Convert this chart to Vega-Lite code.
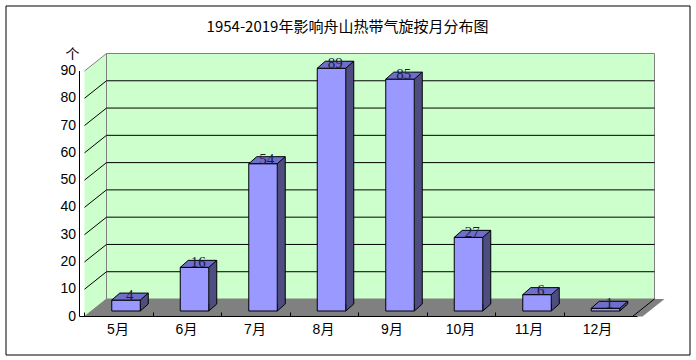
{
  "$schema": "https://vega.github.io/schema/vega-lite/v6.json",
  "width": 684,
  "height": 349,
  "autosize": "none",
  "padding": {"left": 5.5, "top": 5.5, "right": 6.5, "bottom": 5.5},
  "background": "white",
  "view": {"stroke": "black", "strokeWidth": 1, "fill": "white"},
  "title": {
    "text": "1954-2019年影响舟山热带气旋按月分布图",
    "anchor": "middle",
    "frame": "group",
    "font": "Noto Sans CJK SC",
    "fontSize": 15,
    "fontWeight": "normal",
    "color": "black",
    "baseline": "middle",
    "offset": -19,
    "dy": 17
  },
  "resolve": {"axis": {"x": "independent", "y": "independent"}},
  "data": {
    "values": [
      {"month": 5, "count": 4},
      {"month": 6, "count": 16},
      {"month": 7, "count": 54},
      {"month": 8, "count": 89},
      {"month": 9, "count": 85},
      {"month": 10, "count": 27},
      {"month": 11, "count": 6},
      {"month": 12, "count": 1}
    ]
  },
  "layer": [
    {
      "data": {"values": [{}]},
      "mark": {"type": "rect", "fill": "#CCFFCC", "stroke": "#808080", "strokeWidth": 1},
      "encoding": {
        "x": {"datum": 4.5, "type": "quantitative", "scale": {"domain": [4.5, 12.5], "range": [96, 654], "nice": false, "zero": false}, "axis": null},
        "x2": {"datum": 12.5},
        "y": {"datum": 0, "type": "quantitative", "scale": {"domain": [0, 90], "range": [293.5, 48], "nice": false, "zero": false}, "axis": null},
        "y2": {"datum": 90}
      }
    },
    {
      "data": {"values": [{}]},
      "mark": {"type": "point", "shape": "M-22,17.5L0,0L0,245.5L-22,263", "size": 4, "filled": true, "fill": "#CCFFCC", "stroke": "#808080", "strokeWidth": 1, "opacity": 1},
      "encoding": {
        "x": {"datum": 4.5, "type": "quantitative", "axis": null},
        "y": {"datum": 90, "type": "quantitative", "axis": null}
      }
    },
    {
      "data": {"values": [{"g": 10}, {"g": 20}, {"g": 30}, {"g": 40}, {"g": 50}, {"g": 60}, {"g": 70}, {"g": 80}]},
      "mark": {"type": "rule", "color": "black", "strokeWidth": 1},
      "encoding": {
        "x": {"datum": 4.5, "type": "quantitative", "axis": null},
        "x2": {"datum": 12.5},
        "y": {"field": "g", "type": "quantitative", "axis": null}
      }
    },
    {
      "data": {"values": [{"g": 10}, {"g": 20}, {"g": 30}, {"g": 40}, {"g": 50}, {"g": 60}, {"g": 70}, {"g": 80}]},
      "mark": {"type": "rule", "color": "black", "strokeWidth": 1, "x2Offset": -22, "y2Offset": 17.5},
      "encoding": {
        "x": {"datum": 4.5, "type": "quantitative", "axis": null},
        "x2": {"datum": 4.5},
        "y": {"field": "g", "type": "quantitative", "axis": null},
        "y2": {"field": "g"}
      }
    },
    {
      "data": {"values": [{}]},
      "mark": {"type": "point", "shape": "M0,0L-22,17.5L536,17.5L558,0Z", "size": 4, "filled": true, "fill": "#808080", "strokeWidth": 0, "opacity": 1},
      "encoding": {
        "x": {"datum": 4.5, "type": "quantitative", "axis": null},
        "y": {"datum": 0, "type": "quantitative", "axis": null}
      }
    },
    {
      "data": {"values": [{}]},
      "mark": {"type": "rule", "color": "black", "strokeWidth": 1, "x2Offset": -22, "y2Offset": 17.5},
      "encoding": {
        "x": {"datum": 12.5, "type": "quantitative", "axis": null},
        "x2": {"datum": 12.5},
        "y": {"datum": 0, "type": "quantitative", "axis": null},
        "y2": {"datum": 0}
      }
    },
    {
      "mark": {"type": "bar", "width": 8, "xOffset": 3.5, "yOffset": 5, "y2Offset": 5, "fill": "#4D4D80", "strokeWidth": 0},
      "encoding": {
        "x": {
          "field": "month", "type": "quantitative",
          "axis": {
            "orient": "bottom",
            "values": [4.5, 5.5, 6.5, 7.5, 8.5, 9.5, 10.5, 11.5],
            "labelExpr": "(datum.value + 0.5) + '月'",
            "labelOffset": 33.5,
            "position": -22,
            "offset": -38,
            "translate": 0,
            "tickSize": -4,
            "tickColor": "black",
            "domainColor": "black",
            "labelPadding": 10,
            "labelFlush": false,
            "labelOverlap": false,
            "labelBound": false,
            "grid": false,
            "title": null,
            "zindex": 1,
            "labelFont": "Liberation Sans, Noto Sans CJK SC",
            "labelFontSize": 14,
            "labelColor": "black"
          }
        },
        "y": {
          "field": "count", "type": "quantitative",
          "axis": {
            "orient": "left",
            "values": [0, 10, 20, 30, 40, 50, 60, 70, 80, 90],
            "ticks": false,
            "domainColor": "black",
            "offset": -56.5,
            "translate": 17.5,
            "position": 0,
            "labelPadding": 3.5,
            "grid": false,
            "labelFlush": false,
            "labelOverlap": false,
            "labelBound": false,
            "title": "个",
            "titleAngle": 0,
            "titleX": -7,
            "titleY": 32,
            "titleAlign": "center",
            "titleBaseline": "middle",
            "titleFont": "Noto Sans CJK SC",
            "titleFontSize": 14,
            "titleFontWeight": "normal",
            "titleColor": "black",
            "zindex": 1,
            "labelFont": "Liberation Sans",
            "labelFontSize": 14,
            "labelColor": "black"
          }
        }
      }
    },
    {
      "mark": {"type": "point", "shape": "M-0.5,5L-0.5,12L7.5,5", "size": 4, "filled": true, "fill": "#4D4D80", "stroke": "black", "strokeWidth": 1, "opacity": 1},
      "encoding": {
        "x": {"field": "month", "type": "quantitative", "axis": null},
        "y": {"datum": 0, "type": "quantitative", "axis": null}
      }
    },
    {
      "mark": {"type": "rule", "color": "black", "strokeWidth": 1, "xOffset": 7.5, "yOffset": 5, "y2Offset": 5},
      "encoding": {
        "x": {"field": "month", "type": "quantitative", "axis": null},
        "y": {"field": "count", "type": "quantitative", "axis": null},
        "y2": {"datum": 0}
      }
    },
    {
      "mark": {"type": "bar", "width": 28.5, "xOffset": -14.75, "yOffset": 12, "y2Offset": 12, "fill": "#9999FF", "stroke": "black", "strokeWidth": 1},
      "encoding": {
        "x": {"field": "month", "type": "quantitative", "axis": null},
        "y": {"field": "count", "type": "quantitative", "axis": null}
      }
    },
    {
      "mark": {"type": "point", "shape": "M-29,12L-0.5,12L7.5,5L-21,5Z", "size": 4, "filled": true, "fill": "#6E6ECC", "stroke": "black", "strokeWidth": 1, "opacity": 1},
      "encoding": {
        "x": {"field": "month", "type": "quantitative", "axis": null},
        "y": {"field": "count", "type": "quantitative", "axis": null}
      }
    },
    {
      "mark": {"type": "text", "xOffset": -11, "yOffset": 7, "baseline": "middle", "align": "center", "font": "Liberation Serif", "fontSize": 15, "color": "#1a1a40"},
      "encoding": {
        "x": {"field": "month", "type": "quantitative", "axis": null},
        "y": {"field": "count", "type": "quantitative", "axis": null},
        "text": {"field": "count", "type": "quantitative"}
      }
    }
  ]
}
